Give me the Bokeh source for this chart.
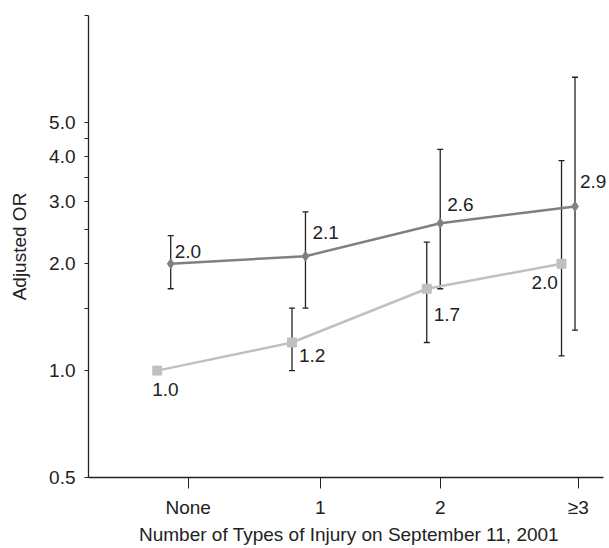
from bokeh.plotting import figure
from bokeh.models import ColumnDataSource, Whisker, TeeHead, FixedTicker, CustomJSTickFormatter, Range1d, LabelSet
from bokeh.core.properties import value
from bokeh.embed import file_html
from bokeh.resources import INLINE

# ---- data ----
categories = ["None", "1", "2", "\u22653"]
or_dark = [2.0, 2.1, 2.6, 2.9]
lo_dark = [1.7, 1.5, 1.7, 1.3]
hi_dark = [2.4, 2.8, 4.2, 6.7]
or_light = [1.0, 1.2, 1.7, 2.0]
lo_light = [None, 1.0, 1.2, 1.1]
hi_light = [None, 1.5, 2.3, 3.9]
y_major = [0.5, 1.0, 2.0, 3.0, 4.0, 5.0]
y_minor = [1.5, 2.5, 3.5, 4.5, 10.0]

# ---- layout / style ----
series_shift = 0.1
x_tick_pos = [0.23, 1.21, 2.10, 3.125]
x_axis_end = 3.311
lbl_dx_dark = [4, 7, 7, 5]
lbl_dy_dark = [6, 17, 12, 18]      # pixels upward
lbl_dx_light = [-5, 7, 7, -30]
lbl_dy_light = [-25, -20, -32, -25]
FONT = "Liberation Sans"
FS = "19px"
INK = "#222222"
DARK = "#808080"
LIGHT = "#c0c0c0"

xs_light = [i for i in range(len(categories))]
xs_dark = [i + series_shift for i in range(len(categories))]

p = figure(frame_width=521, frame_height=462,
           min_border_left=88, min_border_right=0, min_border_top=15, min_border_bottom=70,
           y_axis_type="log", x_range=Range1d(-0.51, 3.356), y_range=Range1d(0.5, 10),
           output_backend="svg", toolbar_location=None)
p.outline_line_color = None
p.xgrid.visible = False
p.ygrid.visible = False
p.background_fill_color = "white"

# lines and markers
p.line(xs_dark, or_dark, line_color=DARK, line_width=2.5)
p.scatter(xs_dark, or_dark, marker="diamond", size=10, fill_color=DARK, line_color=DARK)
p.line(xs_light, or_light, line_color=LIGHT, line_width=2.5)
p.scatter(xs_light, or_light, marker="square", size=9, fill_color=LIGHT, line_color=LIGHT)

# error bars
def whisk(xs, lo, hi):
    idx = [i for i in range(len(xs)) if lo[i] is not None]
    src = ColumnDataSource(dict(x=[xs[i] for i in idx], lo=[lo[i] for i in idx], hi=[hi[i] for i in idx]))
    w = Whisker(base="x", lower="lo", upper="hi", source=src, dimension="height",
                line_color=INK, line_width=1.3,
                upper_head=TeeHead(size=6, line_color=INK, line_width=1.3),
                lower_head=TeeHead(size=6, line_color=INK, line_width=1.3))
    p.add_layout(w)

whisk(xs_dark, lo_dark, hi_dark)
whisk(xs_light, lo_light, hi_light)

# value labels
def labels(xs, ys, dx, dy):
    src = ColumnDataSource(dict(x=xs, y=ys, t=["%.1f" % v for v in ys], dx=dx, dy=dy))
    ls = LabelSet(x="x", y="y", text="t", x_offset="dx", y_offset="dy", source=src,
                  text_font=value(FONT), text_font_size=value(FS), text_color=value(INK),
                  text_baseline=value("alphabetic"), text_align=value("left"))
    p.add_layout(ls)

labels(xs_dark, or_dark, lbl_dx_dark, lbl_dy_dark)
labels(xs_light, or_light, lbl_dx_light, lbl_dy_light)

# y axis
ya = p.yaxis[0]
ya.ticker = FixedTicker(ticks=y_major, minor_ticks=y_minor)
ya.formatter = CustomJSTickFormatter(code="return tick.toFixed(1);")
ya.axis_line_color = INK
ya.axis_line_width = 1.3
ya.major_tick_line_color = INK
ya.minor_tick_line_color = INK
ya.major_tick_out = 4
ya.major_tick_in = 0
ya.minor_tick_out = 4
ya.minor_tick_in = 0
ya.major_label_standoff = 9
ya.major_label_text_font = FONT
ya.major_label_text_font_size = FS
ya.major_label_text_color = INK
ya.axis_label = "Adjusted OR"
ya.axis_label_text_font = FONT
ya.axis_label_text_font_size = FS
ya.axis_label_text_font_style = "normal"
ya.axis_label_text_color = INK
ya.axis_label_standoff = 16

# x axis
xa = p.xaxis[0]
xa.bounds = (-0.51, x_axis_end)
xa.ticker = FixedTicker(ticks=x_tick_pos, minor_ticks=[])
xa.formatter = CustomJSTickFormatter(args=dict(labels=categories), code="return labels[index];")
xa.axis_line_color = INK
xa.axis_line_width = 1.3
xa.major_tick_line_color = INK
xa.major_tick_out = 11
xa.major_tick_in = 0
xa.minor_tick_out = 0
xa.minor_tick_in = 0
xa.major_label_standoff = 8
xa.major_label_text_font = FONT
xa.major_label_text_font_size = FS
xa.major_label_text_color = INK
xa.axis_label = "Number of Types of Injury on September 11, 2001"
xa.axis_label_text_font = FONT
xa.axis_label_text_font_size = FS
xa.axis_label_text_font_style = "normal"
xa.axis_label_text_color = INK
xa.axis_label_standoff = 3

open("out.html", "w").write(file_html(p, INLINE))
